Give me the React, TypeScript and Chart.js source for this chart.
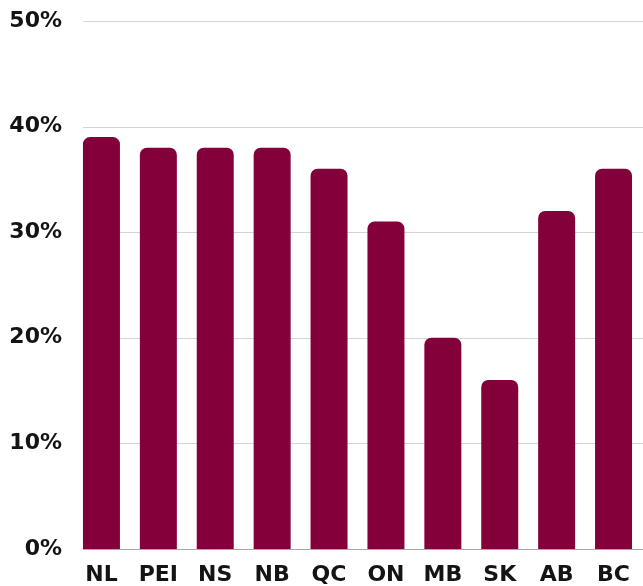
import React, { useEffect, useRef } from "react";
import { Chart, registerables } from "chart.js";

Chart.register(...registerables);

const provinces = ["NL", "PEI", "NS", "NB", "QC", "ON", "MB", "SK", "AB", "BC"];
const shares = [39, 38, 38, 38, 36, 31, 20, 16, 32, 36];
const yTickValues = [0, 10, 20, 30, 40, 50];

const BAR_COLOR = "#84003a";
const TEXT_COLOR = "#141414";
const FONT = "'DejaVu Sans', sans-serif";

const gridPlugin = {
  id: "offsetGrid",
  beforeDatasetsDraw(chart: any) {
    const { ctx, chartArea, scales } = chart;
    const y = scales.y;
    ctx.save();
    ctx.lineWidth = 1;
    yTickValues.forEach((v) => {
      const py = Math.round(y.getPixelForValue(v)) + 0.5;
      ctx.strokeStyle = v === 0 ? "#a8a8a8" : "#d4d4d4";
      ctx.beginPath();
      ctx.moveTo(chartArea.left + 10, py);
      ctx.lineTo(chart.width, py);
      ctx.stroke();
    });
    ctx.restore();
  },
};

export default function App() {
  const ref = useRef<HTMLCanvasElement>(null);
  useEffect(() => {
    document.body.style.margin = "0";
    const chart = new Chart(ref.current!, {
      type: "bar",
      data: {
        labels: provinces,
        datasets: [
          {
            data: shares,
            backgroundColor: BAR_COLOR,
            borderRadius: 7,
            borderSkipped: "start",
            categoryPercentage: 0.65,
            barPercentage: 1,
          },
        ],
      },
      options: {
        responsive: false,
        animation: false,
        layout: { padding: { top: 0, right: 0, left: 0, bottom: 0 } },
        plugins: { legend: { display: false }, tooltip: { enabled: false } },
        scales: {
          x: {
            grid: { display: false, drawTicks: false },
            border: { display: false },
            afterFit: (s: any) => {
              s.height = 37;
            },
            ticks: {
              color: TEXT_COLOR,
              padding: 13,
              font: { family: FONT, weight: "bold", size: 22, lineHeight: 1.2 },
              maxRotation: 0,
            },
          },
          y: {
            min: 0,
            max: 50,
            grid: { display: false, drawTicks: false },
            border: { display: false },
            afterFit: (s: any) => {
              s.width = 73;
            },
            afterBuildTicks: (s: any) => {
              s.ticks = yTickValues.map((v) => ({ value: v }));
            },
            ticks: {
              color: TEXT_COLOR,
              padding: 11,
              font: { family: FONT, weight: "bold", size: 22, lineHeight: 0.9 },
              callback: (v: any) => v + "%",
            },
          },
        },
      },
      plugins: [gridPlugin],
    });
    return () => chart.destroy();
  }, []);
  return <canvas ref={ref} width={643} height={586} style={{ display: "block" }} />;
}
